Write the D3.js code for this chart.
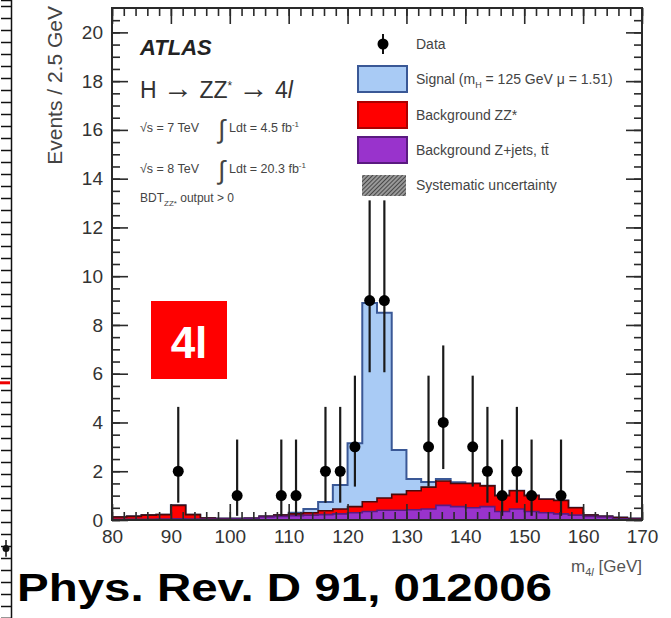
<!DOCTYPE html>
<html>
<head>
<meta charset="utf-8">
<script src="https://cdn.jsdelivr.net/npm/d3@7"></script>
<style>
  body { margin: 0; background: #fff; }
  svg { display: block; font-family: "Liberation Sans", Arial, sans-serif; }
</style>
</head>
<body>
<script>
// bins of 2.5 GeV from 80 to 170
const binWidth = 2.5;
const binLow = d3.range(80, 170, binWidth);

// stacked MC (own heights per bin)
const zjets  = [0.03,0.03,0.03,0.04,0.05,0.04,0.04,0.04,0.05,0.06,0.12,0.15,0.18,0.2,0.22,0.25,0.3,0.35,
                0.4,0.4,0.42,0.45,0.6,0.55,0.5,0.55,0.35,0.45,0.35,0.3,0.25,0.2,0.15,0.12,0.05,0.03];
const zz     = [0.09,0.12,0.17,0.18,0.55,0.18,0.04,0.02,0.01,0.01,0.03,0.05,0.07,0.1,0.16,0.2,0.25,0.4,
                0.5,0.65,0.78,0.9,1.0,0.95,1.0,0.85,0.65,0.75,0.65,0.55,0.55,0.3,0.05,0.03,0.05,0.03];
const signal = [0,0,0,0,0,0,0,0,0,0,0,0,0.05,0.15,0.36,0.99,2.6,8.15,
                7.6,1.82,0.48,0.21,0.08,0.05,0,0,0,0,0,0,0,0,0,0,0,0];

// data points
const dataMass   = [91.25,101.25,108.75,111.25,116.25,118.75,121.25,123.75,126.25,133.75,136.25,141.25,143.75,146.25,148.75,151.25,156.25];
const dataCounts = [2,1,1,1,2,2,3,9,9,3,4,3,2,1,2,1,1];
const errLow     = [1.29,0.83,0.83,0.83,1.29,1.29,1.63,2.94,2.94,1.63,1.91,1.63,1.29,0.83,1.29,0.83,0.83];
const errHigh    = [2.64,2.30,2.30,2.30,2.64,2.64,2.92,4.11,4.11,2.92,3.16,2.92,2.64,2.30,2.64,2.30,2.30];

const xTicks = d3.range(80, 171, 10);
const yTicks = d3.range(0, 21, 2);

const legendLabels = ["Data", "Signal (m", "Background ZZ*", "Background Z+jets, tt\u0304", "Systematic uncertainty"];

const width = 671, height = 618;
const svg = d3.select("body").append("svg").attr("width", width).attr("height", height);

// pattern for systematic uncertainty
const defs = svg.append("defs");
const pat = defs.append("pattern").attr("id", "hatch").attr("patternUnits", "userSpaceOnUse")
  .attr("width", 3).attr("height", 3).attr("patternTransform", "rotate(45)");
pat.append("rect").attr("width", 3).attr("height", 3).attr("fill", "#999");
pat.append("line").attr("x1", 0).attr("y1", 0).attr("x2", 0).attr("y2", 3)
  .attr("stroke", "#333").attr("stroke-width", 1.6);

// piece of the neighbouring plot at the left edge
const yLeft = d3.scaleLinear().domain([0, 51.5]).range([height, 0]);
svg.append("g").attr("transform", "translate(11,0)")
  .call(d3.axisLeft(yLeft).ticks(52).tickSize(10).tickFormat(""))
  .call(g => g.selectAll("line, path").attr("stroke", "#111").attr("stroke-width", 1.5));
svg.append("line").attr("x1", 0).attr("x2", 10).attr("y1", yLeft(19.6)).attr("y2", yLeft(19.6))
  .attr("stroke", "#e00").attr("stroke-width", 3);
svg.append("line").attr("x1", 6).attr("x2", 6).attr("y1", yLeft(5.1)).attr("y2", yLeft(6.5)).attr("stroke", "#111").attr("stroke-width", 1.5);
svg.append("circle").attr("cx", 6).attr("cy", yLeft(5.8)).attr("r", 3.5).attr("fill", "#111");

// main plot
const x = d3.scaleLinear().domain([80, 170]).range([112, 642]);
const y = d3.scaleLinear().domain([0, 21]).range([520, 8]);

const rows = binLow.map((lo, i) => ({ lo, zjets: zjets[i], zz: zz[i], signal: signal[i] }));
const stacked = d3.stack().keys(["zjets", "zz", "signal"])(rows);

const styles = {
  signal: { fill: "#a9cbf5", stroke: "#3a5896" },
  zz:     { fill: "#ff0000", stroke: "#4a0a0a" },
  zjets:  { fill: "#9933cc", stroke: "#5a1a80" }
};

const area = d3.area().curve(d3.curveStepAfter)
  .x(d => x(d.x)).y0(d => y(d.y0)).y1(d => y(d.y1));
const topLine = d3.line().curve(d3.curveStepAfter)
  .x(d => x(d.x)).y(d => y(d.y1));

const histG = svg.append("g");
// draw top layer first so lower outlines sit on top where they coincide
[...stacked].reverse().forEach(s => {
  const pts = s.map((d, i) => ({ x: binLow[i], y0: d[0], y1: d[1] }));
  pts.push({ x: 170, y0: pts[pts.length - 1].y0, y1: pts[pts.length - 1].y1 });
  const st = styles[s.key];
  histG.append("path").datum(pts).attr("d", area).attr("fill", st.fill);
  histG.append("path").datum(pts).attr("d", topLine).attr("fill", "none")
    .attr("stroke", st.stroke).attr("stroke-width", s.key === "signal" ? 2 : 1.6);
});

// data with error bars
const dataG = svg.append("g");
dataMass.forEach((m, i) => {
  dataG.append("line").attr("x1", x(m)).attr("x2", x(m))
    .attr("y1", y(dataCounts[i] - errLow[i])).attr("y2", y(dataCounts[i] + errHigh[i]))
    .attr("stroke", "#1a1a1a").attr("stroke-width", 2.2);
  dataG.append("circle").attr("cx", x(m)).attr("cy", y(dataCounts[i])).attr("r", 5.5).attr("fill", "#000");
});

// axes: ticks inside on all four sides
const axisColor = "#2a2a2a";
function styleAxis(g) {
  g.select(".domain").remove();
  g.selectAll("line").attr("stroke", axisColor).attr("stroke-width", 1.6);
  g.selectAll("text").attr("fill", "#333").style("font-size", "19px");
}
svg.append("g").attr("transform", "translate(112,0)")
  .call(d3.axisLeft(y).tickValues(d3.range(0, 21, 0.5)).tickSize(-8).tickFormat("")).call(styleAxis);
svg.append("g").attr("transform", "translate(112,0)")
  .call(d3.axisLeft(y).tickValues(yTicks).tickSize(-16).tickPadding(9)).call(styleAxis);
svg.append("g").attr("transform", "translate(642,0)")
  .call(d3.axisRight(y).tickValues(d3.range(0, 21, 0.5)).tickSize(-8).tickFormat("")).call(styleAxis);
svg.append("g").attr("transform", "translate(642,0)")
  .call(d3.axisRight(y).tickValues(yTicks).tickSize(-16).tickFormat("")).call(styleAxis);
svg.append("g").attr("transform", "translate(0,8)")
  .call(d3.axisTop(x).tickValues(d3.range(80, 171, 2)).tickSize(-8).tickFormat("")).call(styleAxis);
svg.append("g").attr("transform", "translate(0,8)")
  .call(d3.axisTop(x).tickValues(xTicks).tickSize(-16).tickFormat("")).call(styleAxis);
svg.append("g").attr("transform", "translate(0,520)")
  .call(d3.axisBottom(x).tickValues(d3.range(80, 171, 2)).tickSize(-8).tickFormat("")).call(styleAxis);
svg.append("g").attr("transform", "translate(0,520)")
  .call(d3.axisBottom(x).tickValues(xTicks).tickSize(-16).tickPadding(10)).call(styleAxis);

svg.append("rect").attr("x", 112).attr("y", 8).attr("width", 530).attr("height", 512)
  .attr("fill", "none").attr("stroke", axisColor).attr("stroke-width", 2);

// axis titles
svg.append("text").attr("transform", "translate(62,6) rotate(-90)").attr("text-anchor", "end")
  .attr("fill", "#444").style("font-size", "21px").text("Events / 2.5 GeV");
const xl = svg.append("text").attr("x", 642).attr("y", 572).attr("text-anchor", "end")
  .attr("fill", "#555").style("font-size", "17px");
xl.append("tspan").text("m");
xl.append("tspan").attr("dy", 4).style("font-size", "11px").text("4");
xl.append("tspan").style("font-size", "11px").style("font-style", "italic").text("l");
xl.append("tspan").attr("dy", -4).text(" [GeV]");

// ATLAS label block
const tx = 140;
svg.append("text").attr("x", tx).attr("y", 55).style("font-size", "22px")
  .style("font-weight", "bold").style("font-style", "italic").attr("fill", "#222").text("ATLAS");
const ht = svg.append("text").attr("x", tx).attr("y", 98).style("font-size", "23px").attr("fill", "#333");
ht.append("tspan").text("H ");
ht.append("tspan").style("font-size", "30px").text("\u2192");
ht.append("tspan").text(" ZZ");
ht.append("tspan").attr("dy", -8).style("font-size", "12px").text("*");
ht.append("tspan").attr("dy", 8).text(" ");
ht.append("tspan").style("font-size", "30px").text("\u2192");
ht.append("tspan").text(" 4");
ht.append("tspan").style("font-style", "italic").text("l");

function lumiLine(yy, e, lumi) {
  const t = svg.append("text").attr("x", tx).attr("y", yy).style("font-size", "12.5px").attr("fill", "#444");
  t.append("tspan").text("\u221As = " + e + " TeV");
  svg.append("text").attr("x", tx + 78).attr("y", yy + 6).style("font-size", "26px").attr("fill", "#444").text("\u222B");
  const t2 = svg.append("text").attr("x", tx + 89).attr("y", yy).style("font-size", "12.5px").attr("fill", "#444");
  t2.append("tspan").text("Ldt = " + lumi + " fb");
  t2.append("tspan").attr("dy", -5).style("font-size", "8px").text("-1");
}
lumiLine(132, 7, "4.5");
lumiLine(173, 8, "20.3");
const bdt = svg.append("text").attr("x", tx).attr("y", 202).style("font-size", "12px").attr("fill", "#444");
bdt.append("tspan").text("BDT");
bdt.append("tspan").attr("dy", 4).style("font-size", "8px").text("ZZ*");
bdt.append("tspan").attr("dy", -4).text(" output > 0");

// legend
const lg = svg.append("g");
const lx = 358, lw = 49, lh = 26, ltx = 416;
const legendY = [44, 79, 115, 150, 185];
lg.append("line").attr("x1", 383).attr("x2", 383).attr("y1", legendY[0] - 10).attr("y2", legendY[0] + 10)
  .attr("stroke", "#111").attr("stroke-width", 2);
lg.append("circle").attr("cx", 383).attr("cy", legendY[0]).attr("r", 5.5).attr("fill", "#000");
[["signal", 1], ["zz", 2], ["zjets", 3]].forEach(([k, i]) => {
  lg.append("rect").attr("x", lx).attr("y", legendY[i] - lh / 2).attr("width", lw).attr("height", lh)
    .attr("fill", styles[k].fill).attr("stroke", k === "zz" ? "#a00" : styles[k].stroke).attr("stroke-width", 2);
});
lg.append("rect").attr("x", 362).attr("y", legendY[4] - 10).attr("width", 44).attr("height", 21).attr("fill", "url(#hatch)");
legendLabels.forEach((lab, i) => {
  const t = lg.append("text").attr("x", ltx).attr("y", legendY[i]).attr("dy", "0.35em")
    .style("font-size", "14px").attr("fill", "#444");
  t.append("tspan").text(lab);
  if (i === 1) {
    t.append("tspan").attr("dy", 4).style("font-size", "9px").text("H");
    t.append("tspan").attr("dy", -4).text(" = 125 GeV \u03BC = 1.51)");
  }
});

// red channel tag
svg.append("rect").attr("x", 151).attr("y", 301).attr("width", 76).attr("height", 78).attr("fill", "#ff0000");
svg.append("text").attr("x", 189).attr("y", 358).attr("text-anchor", "middle").attr("fill", "#fff")
  .style("font-size", "44px").style("font-weight", "bold").text("4l");

// reference
svg.append("text").attr("x", 17).attr("y", 601).attr("fill", "#000")
  .style("font-size", "39px").style("font-weight", "bold")
  .attr("textLength", 535).attr("lengthAdjust", "spacingAndGlyphs")
  .text("Phys. Rev. D 91, 012006");
</script>
</body>
</html>
